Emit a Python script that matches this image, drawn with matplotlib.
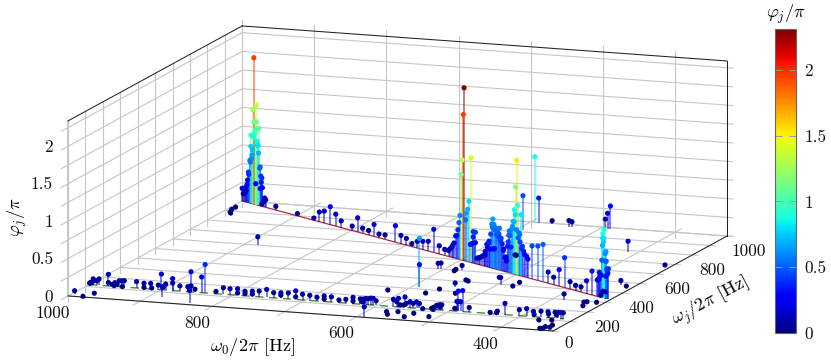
import numpy as np
import matplotlib
matplotlib.use('Agg')
import matplotlib.pyplot as plt
from mpl_toolkits.mplot3d import proj3d
from mpl_toolkits.mplot3d.art3d import Line3DCollection

plt.rcParams['mathtext.fontset'] = 'cm'
plt.rcParams['font.family'] = ['cmr10', 'DejaVu Sans']
plt.rcParams['axes.formatter.use_mathtext'] = True

# points on the line w_j = w_0
w_diag = [978.6, 974, 980.5, 974, 978, 969.5, 984, 971, 984, 981, 986, 967, 988.5, 964, 991, 975, 965, 967, 1000,
          992.6, 994.5, 959, 957, 961, 964, 938.5, 899,
          998, 996, 993, 990, 988, 985, 983, 982, 979, 977, 976, 973, 972, 970, 968, 966, 963,
          869, 859, 850, 839, 829, 819, 799, 789, 780, 769, 759, 750, 739, 720, 710, 700, 690, 680, 670, 660, 650,
          640, 630,
          594.6, 596, 598, 582, 600, 586, 588, 591, 602, 604, 592, 606, 608, 610, 613, 615, 617, 620, 623, 578, 574,
          578, 574, 580, 583, 571, 568, 565, 562, 559, 556, 550, 552, 547, 541, 542, 544, 540, 535, 538, 531,
          556, 553, 549, 546, 543, 537, 533, 528, 522, 518, 515, 513, 507, 503, 501, 499, 496, 493, 488, 484, 478,
          536, 530, 530, 527, 525, 523, 512, 511, 514, 509, 520, 517, 539, 506.4, 505, 503, 500.3, 498.5, 497, 495,
          490.6, 492.4, 489.4, 486, 480.3, 470.5, 460, 450.4, 441, 431, 421, 411, 401, 391, 381, 371, 361, 351.2,
          339, 341, 341.5, 335.4, 338, 331, 333.6, 347.6, 346, 349.4, 333, 336, 337, 341, 344.5,
          348, 344, 343, 342, 340, 339.5, 337, 335, 334, 332]
phi_diag = [1.957, 1.335, 1.26, 1.11, 1.10, 1.03, 0.91, 0.80, 0.76, 0.72, 0.57, 0.52, 0.41, 0.38, 0.24, 0.28, 0.32,
            0.23, 0.17, 0.15, 0.12, 0.12, 0.10, 0.07, 0.03, 0.05, 0.03,
            0.10, 0.12, 0.20, 0.30, 0.38, 0.55, 0.60, 0.65, 0.90, 0.95, 1.00, 0.85, 0.80, 0.70, 0.50, 0.40, 0.25,
            0.03, 0.13, 0.16, 0.24, 0.16, 0.09, 0.06, 0.19, 0.07, 0.06, 0.16, 0.05, 0.06, 0.22, 0.11, 0.09, 0.04,
            0.09, 0.11, 0.13, 0.31, 0.11, 0.08,
            2.31, 1.95, 1.34, 1.40, 1.14, 0.81, 0.70, 0.64, 0.59, 0.49, 0.55, 0.39, 0.31, 0.30, 0.20, 0.17, 0.14,
            0.11, 0.08, 0.42, 0.42, 0.35, 0.28, 0.26, 0.24, 0.08, 0.09, 0.10, 0.12, 0.14, 0.15, 0.32, 0.26, 0.25,
            0.26, 0.66, 0.59, 0.59, 0.46, 0.52, 0.48,
            0.20, 0.30, 0.35, 0.45, 0.55, 0.55, 0.50, 0.40, 0.30, 0.20, 0.35, 0.50, 0.60, 0.70, 0.80, 0.60, 0.50,
            0.55, 0.40, 0.30, 0.25,
            0.52, 0.56, 0.44, 0.43, 0.36, 0.28, 0.56, 0.50, 0.41, 0.35, 0.19, 0.15, 0.27, 0.63, 0.70, 0.86, 1.17,
            1.53, 0.93, 0.57, 0.82, 0.45, 0.37, 0.34, 0.28, 0.44, 0.46, 0.50, 0.15, 0.10, 0.22, 0.40, 0.10, 0.07,
            0.07, 0.17, 0.32, 0.22,
            0.92, 0.86, 0.80, 0.63, 0.50, 0.41, 0.39, 0.33, 0.29, 0.23, 0.33, 0.30, 0.09, 0.09, 0.03,
            0.25, 0.30, 0.50, 0.70, 0.75, 0.80, 0.60, 0.50, 0.40, 0.35]

# points along the dashed line w_j = 120
w0_row = [998, 999, 997.6, 994, 994, 989, 986, 973, 973, 967.5, 964, 961.5, 965, 958, 954.6, 951, 953.7, 934, 923.7,
          914.4, 923.7, 913, 903.8, 897, 893.6, 884, 884, 899.6, 874, 863, 858.5, 853, 843.8, 839, 858.5, 824, 813.7,
          804.5, 794, 794, 783.7, 783.7, 773.5, 773.5, 764, 753.7, 744, 734, 734, 723.7, 713.5, 713.5,
          704, 694, 684, 674, 674, 664, 653.5, 644, 634, 634, 624, 620, 616.5, 613, 609.6, 606, 602, 620, 622,
          578, 571, 562, 573.5, 569, 564, 560, 555, 550.5, 546, 542, 537.5, 525, 522, 518, 514, 511, 523, 513.5,
          493, 488, 473, 444, 490, 485, 488, 482,
          435, 434, 423.4, 403.6, 393.4, 384, 383, 373.5, 363.8, 363, 354, 352, 349.5, 345.8, 342.6]
phi_row = [0.02, 0.02, 0.03, 0.08, 0.05, 0.06, 0.085, 0.155, 0.045, 0.025, 0.05, 0.03, 0.01, 0.08, 0.08, 0.085, 0.005,
           0.085, 0.07, 0.075, 0.015, 0.015, 0.06, 0.04, 0.08, 0.10, 0.16, 0.21, 0.07, 0.066, 0.08, 0.04, 0.21, 0.38,
           0.27, 0.03, 0.087, 0.08, 0.087, 0.03, 0.06, 0.03, 0.07, 0.03, 0.077, 0.106, 0.07, 0.075, 0.044, 0.08,
           0.115, 0.035,
           0.077, 0.07, 0.05, 0.075, 0.035, 0.07, 0.035, 0.05, 0.084, 0.035, 0.07, 0.07, 0.08, 0.08, 0.09, 0.09,
           0.06, 0.03, 0.04,
           0.096, 0.115, 0.14, 0.07, 0.03, 0.03, 0.055, 0.08, 0.06, 0.085, 0.065, 0.0, 0.014, 0.03, 0.06, 0.07, 0.07,
           0.0, 0.04,
           0.035, 0.13, 0.06, 0.015, 0.13, 0.13, 0.27, 0.28,
           0.02, 0.04, 0.15, 0.08, 0.10, 0.07, 0.03, 0.08, 0.08, 0.05, 0.08, 0.05, 0.08, 0.08, 0.08]

# the remaining scattered points
w0_off = [997, 981, 974, 883, 835, 990, 991, 987, 989, 882,
          590, 590, 591, 622, 561, 575, 568, 542, 538, 512, 569, 561, 547, 532, 607, 604, 584, 585, 576, 549, 544, 514,
          591, 586.6, 592, 568, 541, 538, 493, 490, 486,
          495, 478, 478, 384, 355, 352, 348, 339, 414, 348, 339, 339,
          545, 543, 370, 346.6, 350, 347, 354, 342, 340]
wj_off = [25, 7, 43, 57, 14, 890, 925, 880, 895, 601,
          319, 319, 6.4, 270, 75.6, 68, 44, 33, 71, 50, 267.6, 314, 346, 285, 497, 501, 494, 508, 506, 416, 408, 463,
          918, 990, 990, 990, 975, 980, 985, 985, 985,
          392, 391, 430, 296, 290, 295, 255, 296, 788, 473, 467, 689,
          681, 680, 93, 18, 16, 35, 101, 55, 32]
phi_off = [0.04, 0.0, 0.0, 0.13, 0.17, 0.0, 0.02, 0.0, 0.03, 0.11,
           0.65, 0.30, 0.13, 0.0, 0.0, 0.0, 0.0, 0.0, 0.0, 0.0, 0.0, 0.0, 0.05, 0.0, 0.08, 0.08, 0.0, 0.0, 0.06, 0.0,
           0.0, 0.0,
           0.46, 0.34, 0.89, 0.05, 0.09, 0.07, 0.13, 0.21, 0.31,
           0.10, 0.0, 0.0, 0.08, 0.0, 0.0, 0.0, 0.0, 0.14, 0.06, 0.0, 0.0,
           0.0, 0.0, 0.0, 0.0, 0.0, 0.0, 0.0, 0.0, 0.0]

x_ticks = [1000, 800, 600, 400]
y_ticks = [0, 200, 400, 600, 800, 1000]
y_tick_shift = [16, 19, 19, 20, 20, 22]
z_ticks = [0, 0.5, 1, 1.5, 2]
z_tick_labels = ['0', '0.5', '1', '1.5', '2']
cbar_ticks = [0, 0.5, 1, 1.5, 2]

x_hi, x_lo = 1000, 328
y_hi = 1000
z_hi = 2.34
c_hi = 2.31

w0 = np.array(w_diag + w0_row + w0_off)
wj = np.array(w_diag + [120] * len(w0_row) + wj_off)
phi = np.array(phi_diag + phi_row + phi_off)

order = np.argsort(phi)
w0, wj, phi = w0[order], wj[order], phi[order]

W = 724.7  # pixels, square 3d axes bigger than the figure
fig = plt.figure(figsize=(8.31, 3.63), dpi=100)
ax = fig.add_axes([25.4 / 831, -187.6 / 363, W / 831, W / 363], projection='3d', computed_zorder=False)
ax.set_box_aspect((516, 509, 178.6))
ax.view_init(elev=11.45, azim=-70)
ax.set_proj_type('ortho')
ax.set_axis_off()
ax.patch.set_visible(False)

gc = '#c6c6c6'
glw = 0.8


def gline(xs, ys, zs, color=gc, lw=glw, z=1, **kw):
    ax.plot(xs, ys, zs, color=color, lw=lw, zorder=z, **kw)


# back wall and left wall grid
for xv in np.arange(400, 1001, 100):
    gline([xv, xv], [y_hi, y_hi], [-0.08, z_hi + 0.08])
    if xv < 1000:
        gline([xv, xv], [-40, 1035], [0, 0])
for yv in np.arange(0, 1001, 100):
    gline([x_hi, x_hi], [yv, yv], [-0.08, z_hi])
    gline([x_hi, x_lo - 8], [yv, yv], [0, 0])
for zv in np.arange(0, 2.3, 0.25):
    gline([x_hi, x_lo - 8], [y_hi, y_hi], [zv, zv])
    gline([x_hi, x_hi], [-40, y_hi], [zv, zv])
gline([x_hi, x_hi], [0, 0], [0, z_hi], lw=1.4)

# box outline
gline([x_hi, x_lo], [0, 0], [0, 0], color='#222222', lw=0.75, z=2)
gline([x_lo, x_lo], [0, y_hi], [0, 0], color='#222222', lw=0.75, z=2)
gline([x_lo, x_lo], [y_hi, y_hi], [0, z_hi], color='#222222', lw=0.75, z=2)
gline([x_hi, x_lo], [y_hi, y_hi], [z_hi, z_hi], color='#222222', lw=0.75, z=2)
gline([x_hi, x_hi], [0, y_hi], [z_hi, z_hi], color='#222222', lw=0.75, z=2)

# reference lines on the floor
gline([x_hi, 345], [x_hi, 345], [0, 0], color='#b02a3c', lw=0.9, z=3)
gline([x_hi, 342], [120, 120], [0, 0], color='#4f8a3c', lw=1.0, z=3, linestyle=(0, (6, 4)))

cmap = plt.get_cmap('jet')
norm = plt.Normalize(0, c_hi)

segs = [[(a, b, 0), (a, b, c)] for a, b, c in zip(w0, wj, phi)]
stems = Line3DCollection(segs, colors=cmap(norm(phi)), linewidths=1.1, alpha=0.65, zorder=4)
ax.add_collection3d(stems)
ax.scatter(w0, wj, phi, c=phi, cmap=cmap, norm=norm, s=14, linewidths=0, depthshade=False, zorder=5, alpha=1)

ax.set_xlim(x_hi, x_lo, view_margin=0)
ax.set_ylim(0, y_hi, view_margin=0)
ax.set_zlim(0, z_hi, view_margin=0)


def to_fig(x, y, z, dx, dy):
    # 3d point to figure fraction, shifted by dx, dy pixels (dy counts downward)
    px, py, _ = proj3d.proj_transform(x, y, z, ax.get_proj())
    px, py = ax.transData.transform((px, py))
    return (px + dx) / 831, (py - dy) / 363


# tick labels
fs = 12.5
for t in x_ticks:
    fx, fy = to_fig(t, 0, 0, -15.5, 17)
    fig.text(fx, fy, str(t), ha='center', va='center', fontsize=fs, color='#111111')
for t, s in zip(y_ticks, y_tick_shift):
    fx, fy = to_fig(x_lo, t, 0, s, 15 if t else 12)
    fig.text(fx, fy, str(t), ha='center', va='center', fontsize=fs, color='#111111')
for t, s in zip(z_ticks, z_tick_labels):
    fx, fy = to_fig(x_hi, 0, t, -15, 1)
    fig.text(fx, fy, s, ha='right', va='center', fontsize=fs, color='#111111')

# axis labels
lfs = 13.2
fig.text(253 / 831, 1 - 347 / 363, r'$\omega_0/2\pi$ [Hz]', ha='center', va='center', fontsize=lfs)
fig.text(711 / 831, 1 - 302 / 363, r'$\omega_j/2\pi$ [Hz]', ha='center', va='center', fontsize=lfs, rotation=28)
fig.text(17 / 831, 1 - 217 / 363, r'$\varphi_j/\pi$', ha='center', va='center', fontsize=lfs, rotation=90)

# colorbar
cax = fig.add_axes([775.3 / 831, 1 - 333 / 363, 20.7 / 831, 304 / 363])
sm = plt.cm.ScalarMappable(norm=norm, cmap=cmap)
cb = fig.colorbar(sm, cax=cax)
cb.set_ticks(cbar_ticks)
cb.set_ticklabels(['0', '0.5', '1', '1.5', '2'])
cb.outline.set_edgecolor('#666666')
cb.outline.set_linewidth(0.8)
cax.tick_params(axis='y', direction='in', length=5, width=0.7, color='#999999', left=True, right=True,
                labelsize=fs, pad=6, labelcolor='#111111')
fig.text(786 / 831, 1 - 14 / 363, r'$\varphi_j/\pi$', ha='center', va='center', fontsize=lfs)

fig.savefig('out.png', dpi=100)
